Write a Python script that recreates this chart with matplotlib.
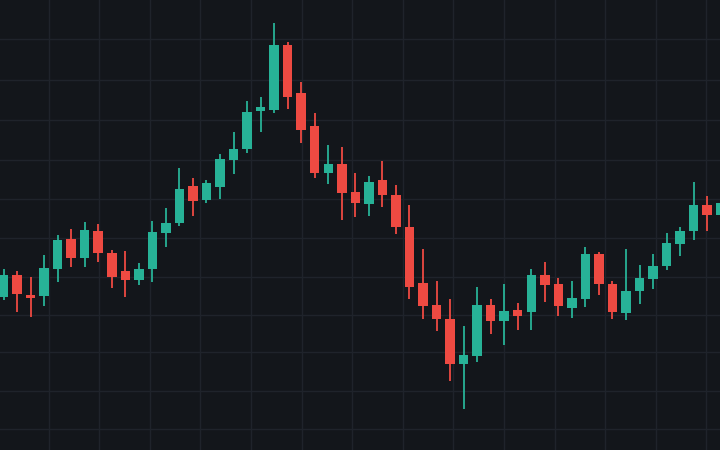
import matplotlib
matplotlib.use("Agg")
import matplotlib.pyplot as plt
from matplotlib.patches import Rectangle

# OHLC data
opens = [15.3, 17.5, 15.5, 15.4, 18.1, 21.1, 19.2, 21.9, 19.7, 17.9,
         17.0, 18.1, 21.7, 22.7, 26.4, 25.0, 26.3, 29.0, 30.1, 33.9,
         34.0, 40.5, 35.7, 32.4, 27.7, 28.6, 25.8, 24.6, 27.0, 25.5,
         22.3, 16.7, 14.5, 13.1, 8.6, 9.4, 14.5, 12.9, 14.0, 13.8,
         17.5, 16.6, 14.2, 15.1, 19.6, 16.6, 13.7, 15.9, 17.1, 18.4,
         20.6, 21.9, 24.5, 23.5]
highs = [18.1, 17.9, 17.3, 19.5, 21.5, 22.1, 22.8, 22.6, 20.0, 19.9,
         18.7, 22.9, 24.2, 28.2, 27.2, 27.0, 29.6, 31.8, 34.9, 35.3,
         42.7, 40.8, 36.8, 33.7, 30.5, 30.3, 27.7, 27.4, 28.9, 26.5,
         24.5, 20.1, 16.9, 15.1, 12.4, 16.3, 15.1, 16.6, 14.7, 18.1,
         18.8, 17.2, 16.9, 20.3, 19.8, 16.9, 20.1, 18.5, 19.6, 21.7,
         22.3, 26.8, 25.4, 26.0]
lows = [15.0, 13.8, 13.3, 14.4, 16.8, 18.3, 18.3, 18.8, 16.2, 15.3,
        16.5, 16.8, 20.3, 22.4, 23.4, 24.7, 25.1, 27.6, 29.7, 31.8,
        33.7, 34.1, 30.7, 27.2, 26.6, 23.0, 23.3, 23.4, 24.3, 21.6,
        15.1, 13.1, 11.9, 6.9, 4.1, 8.8, 11.6, 10.5, 12.0, 12.0,
        14.8, 13.4, 13.2, 14.3, 15.5, 13.1, 13.0, 14.6, 16.1, 18.0,
        19.4, 21.0, 21.9, 22.7]
closes = [17.5, 15.6, 15.2, 18.2, 21.0, 19.2, 22.0, 19.7, 17.3, 17.0,
          18.1, 21.8, 22.7, 26.1, 24.9, 26.7, 29.1, 30.1, 33.8, 34.3,
          40.5, 35.3, 32.0, 27.7, 28.6, 25.7, 24.7, 26.8, 25.5, 22.3,
          16.3, 14.4, 13.1, 8.6, 9.5, 14.5, 12.9, 13.9, 13.4, 17.5,
          16.5, 14.4, 15.2, 19.6, 16.6, 13.8, 15.9, 17.2, 18.4, 20.7,
          21.9, 24.5, 23.5, 24.7]

BG = "#13161b"
GRID = "#1f232b"
UP = "#27b297"
DOWN = "#ee4a42"

W, H = 720, 450
fig = plt.figure(figsize=(W / 100, H / 100), dpi=100, facecolor=BG)
ax = fig.add_axes([0, 0, 1, 1])
ax.set_facecolor(BG)

x0, x1 = -0.259, 52.945
y0, y1 = 0.0, 45.0
ax.set_xlim(x0, x1)
ax.set_ylim(y0, y1)

# grid lines (pixel positions of the reference grid)
vgrid_px = [48.5 + 50.6 * k for k in range(14)]
hgrid_px = [38.5, 80, 120, 159.5, 199, 238, 276.5, 314.5, 352, 391, 429]
for p in vgrid_px:
    ax.axvline(x0 + p / W * (x1 - x0), color=GRID, lw=1.0, zorder=0)
for p in hgrid_px:
    ax.axhline(y1 - p / H * (y1 - y0), color=GRID, lw=1.0, zorder=0)

body_w = 0.70
for i, (o, h, l, c) in enumerate(zip(opens, highs, lows, closes)):
    col = UP if c >= o else DOWN
    ax.vlines(i, l, h, color=col, lw=1.3, zorder=2)
    bottom = min(o, c)
    height = max(abs(c - o), 0.25)
    ax.add_patch(Rectangle((i - body_w / 2, bottom), body_w, height,
                           facecolor=col, edgecolor="none", zorder=3))

ax.axis("off")
fig.savefig("out.png", dpi=100, facecolor=BG)
